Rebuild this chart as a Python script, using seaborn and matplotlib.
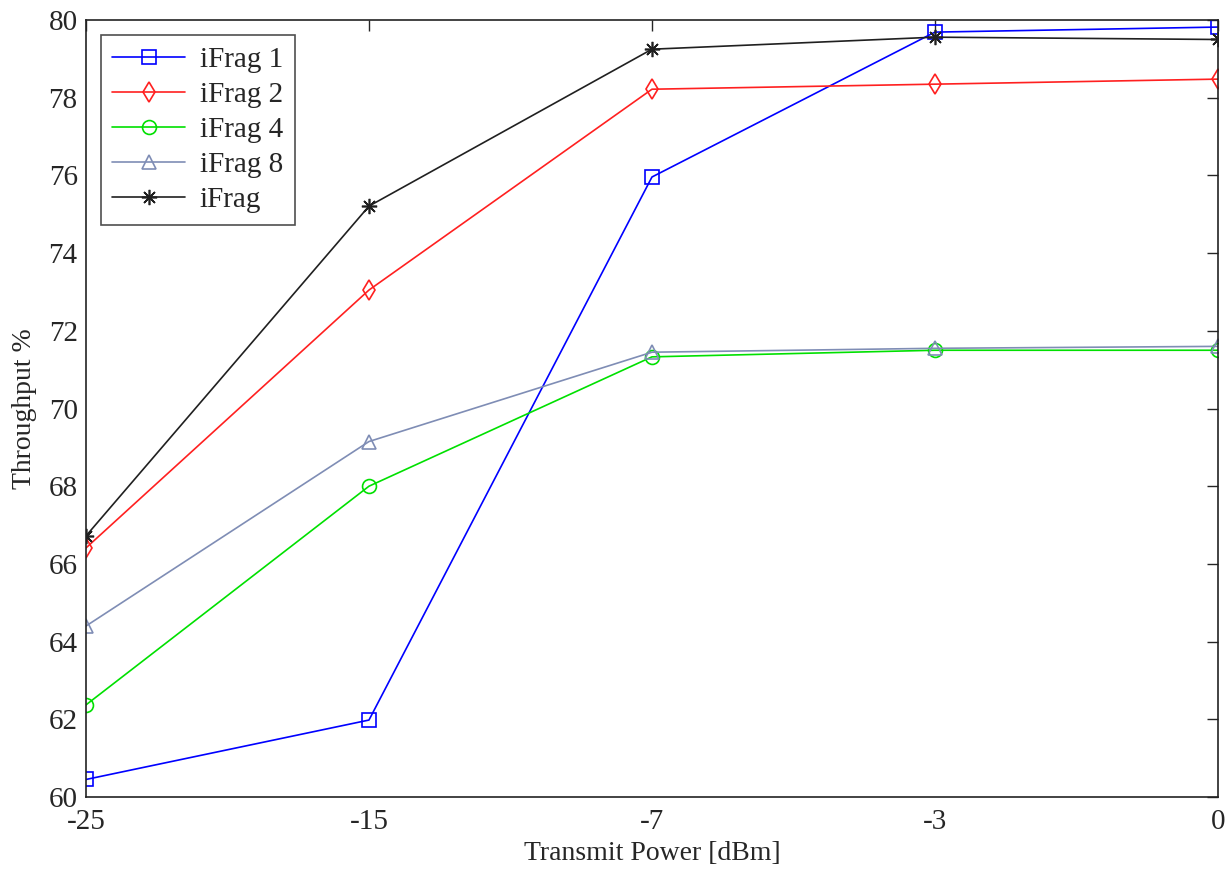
import pandas as pd
import numpy as np
import matplotlib.pyplot as plt
import seaborn as sns

power = ['-25', '-15', '-7', '-3', '0']

ifrag1 = [60.45, 61.98, 75.96, 79.69, 79.82]
ifrag2 = [66.41, 73.05, 78.22, 78.35, 78.48]
ifrag4 = [62.37, 68.00, 71.33, 71.50, 71.50]
ifrag8 = [64.40, 69.15, 71.45, 71.55, 71.60]
ifrag = [66.72, 75.21, 79.25, 79.56, 79.50]

names = ['iFrag 1', 'iFrag 2', 'iFrag 4', 'iFrag 8', 'iFrag']
series = [ifrag1, ifrag2, ifrag4, ifrag8, ifrag]
colors = ['#0000ff', '#ff2020', '#00e000', '#7f8db5', '#202020']
markers = ['s', 'd', 'o', '^', (8, 2, 0)]

sns.set_style('white')
plt.rcParams['font.family'] = ['Liberation Serif', 'DejaVu Serif']

fig = plt.figure(figsize=(12.3, 8.69), dpi=100)
ax = fig.add_axes([0.0699, 0.0829, 0.9203, 0.894])

pos = np.arange(len(power))
for name, vals, c, m in zip(names, series, colors, markers):
    df = pd.DataFrame({'x': pos, 'y': vals})
    ms = 11 if m == (8, 2, 0) else 10
    sns.lineplot(data=df, x='x', y='y', ax=ax, color=c, marker=m, markersize=ms,
                 markerfacecolor='none', markeredgecolor=c, markeredgewidth=1.2,
                 linewidth=1.2, label=name)

ax.set_xlim(0, len(power) - 1)
ax.set_ylim(60, 80)
ax.set_xticks(pos)
ax.set_xticklabels(power)
ax.set_yticks(np.arange(60, 81, 2))
ax.tick_params(direction='in', length=8, width=1, labelsize=21, top=True, right=True,
               labeltop=False, labelright=False)
ax.tick_params(axis='x', pad=9)
ax.tick_params(axis='y', pad=6)
for s in ax.spines.values():
    s.set_linewidth(1.2)
    s.set_color('#222222')

ax.set_xlabel('Transmit Power [dBm]', fontsize=20, labelpad=4)
ax.set_ylabel('Throughput %', fontsize=20, labelpad=8)

leg = ax.legend(loc='upper left', fontsize=21, frameon=True, fancybox=False,
                borderaxespad=0.5, handlelength=2.5, labelspacing=0.3,
                borderpad=0.4, handletextpad=0.5)
leg.get_frame().set_edgecolor('#222222')
leg.get_frame().set_linewidth(1.2)

fig.savefig('out.png', dpi=100)
